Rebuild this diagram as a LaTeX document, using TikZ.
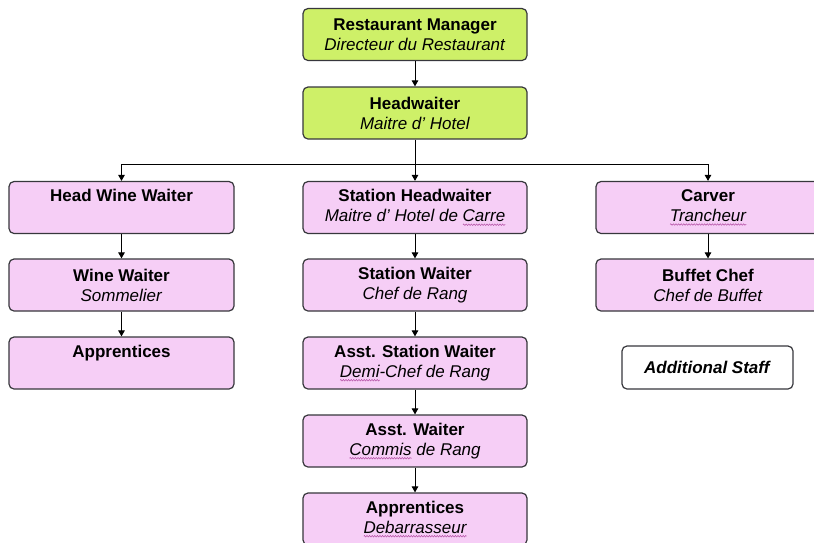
\documentclass[tikz,border=0pt]{standalone}
\usepackage{fontspec}
\setmainfont{Liberation Sans}
\usetikzlibrary{arrows.meta,decorations.pathmorphing}
\definecolor{mgreen}{RGB}{206,240,104}
\definecolor{mpink}{RGB}{246,206,246}
\definecolor{edge}{RGB}{55,55,60}
\definecolor{spellc}{RGB}{180,80,165}
\newlength\spelllen
\newsavebox\spellbox
\newcommand\spellw[1]{\sbox\spellbox{#1}\setlength\spelllen{\wd\spellbox}%
  \rlap{\raisebox{-3.2pt}{\tikz[baseline=0pt,x=1pt,y=1pt,sharp corners]\draw[spellc,line width=0.5pt,sharp corners,decorate,decoration={zigzag,amplitude=0.8pt,segment length=2.6pt}] (0,0) -- (\spelllen,0);}}\usebox\spellbox}
\newcommand\ttl[1]{\textbf{#1}}
\newcommand\sub[1]{\textit{#1}}
\begin{document}
\begin{tikzpicture}[x=1pt,y=-1pt,
  box/.style={draw=edge,line width=1.2pt,rounded corners=5pt,fill=mpink,
    minimum width=224pt,minimum height=52pt,inner sep=0pt,align=center,
    font=\fontsize{17}{20}\selectfont},
  gbox/.style={box,fill=mgreen},
  wbox/.style={box,fill=white,minimum width=171pt,minimum height=43pt},
  arr/.style={draw=black,line width=1pt,-{Triangle[width=6.5pt,length=6pt]}},
  ln/.style={draw=black,line width=1pt}]
\clip (0,0) rectangle (814,542);
\fill[white] (0,0) rectangle (814,542);
% top
\node[gbox] (rm) at (415,34.5) {\ttl{Restaurant Manager}\\\sub{Directeur du Restaurant}};
\node[gbox] (hw) at (415,113) {\ttl{Headwaiter}\\\sub{Maitre d' Hotel}};
% left column
\node[box,minimum width=225pt] (hww) at (121.5,207.5) {\ttl{Head Wine Waiter}\\\phantom{Xg}};
\node[box,minimum width=225pt] (ww) at (121.5,285) {\ttl{Wine Waiter}\\\sub{Sommelier}};
\node[box,minimum width=225pt] (lap) at (121.5,363) {\ttl{Apprentices}\\\phantom{Xg}};
% middle column
\node[box] (sth) at (415,207.5) {\ttl{Station Headwaiter}\\\sub{Maitre d' Hotel de \spellw{Carre}}};
\node[box] (stw) at (415,285) {\ttl{Station Waiter}\\\sub{Chef de Rang}};
\node[box] (asw) at (415,363) {\ttl{Asst. Station Waiter}\\\sub{\spellw{Demi}-Chef de Rang}};
\node[box] (aw) at (415,441) {\ttl{Asst. Waiter}\\\sub{\spellw{Commis} de Rang}};
\node[box] (map) at (415,519) {\ttl{Apprentices}\\\sub{\spellw{Debarrasseur}}};
% right column
\node[box] (cv) at (708,207.5) {\ttl{Carver}\\\sub{\spellw{Trancheur}}};
\node[box] (bc) at (708,285) {\ttl{Buffet Chef}\\\sub{Chef de Buffet}};
\node[wbox] (as) at (707.5,367.5) {\textbf{\textit{Additional Staff}}};
% connectors
\coordinate (bar) at (415,164);
\draw[arr] (rm) -- (hw);
\draw[ln] (hw.south) -- (bar);
\draw[arr] (bar) -- (sth.north);
\draw[arr] (bar) -| (hww.north);
\draw[arr] (bar) -| (cv.north);
\draw[arr] (hww) -- (ww);
\draw[arr] (ww) -- (lap);
\draw[arr] (sth) -- (stw);
\draw[arr] (stw) -- (asw);
\draw[arr] (asw) -- (aw);
\draw[arr] (aw) -- (map);
\draw[arr] (cv) -- (bc);
\end{tikzpicture}
\end{document}
